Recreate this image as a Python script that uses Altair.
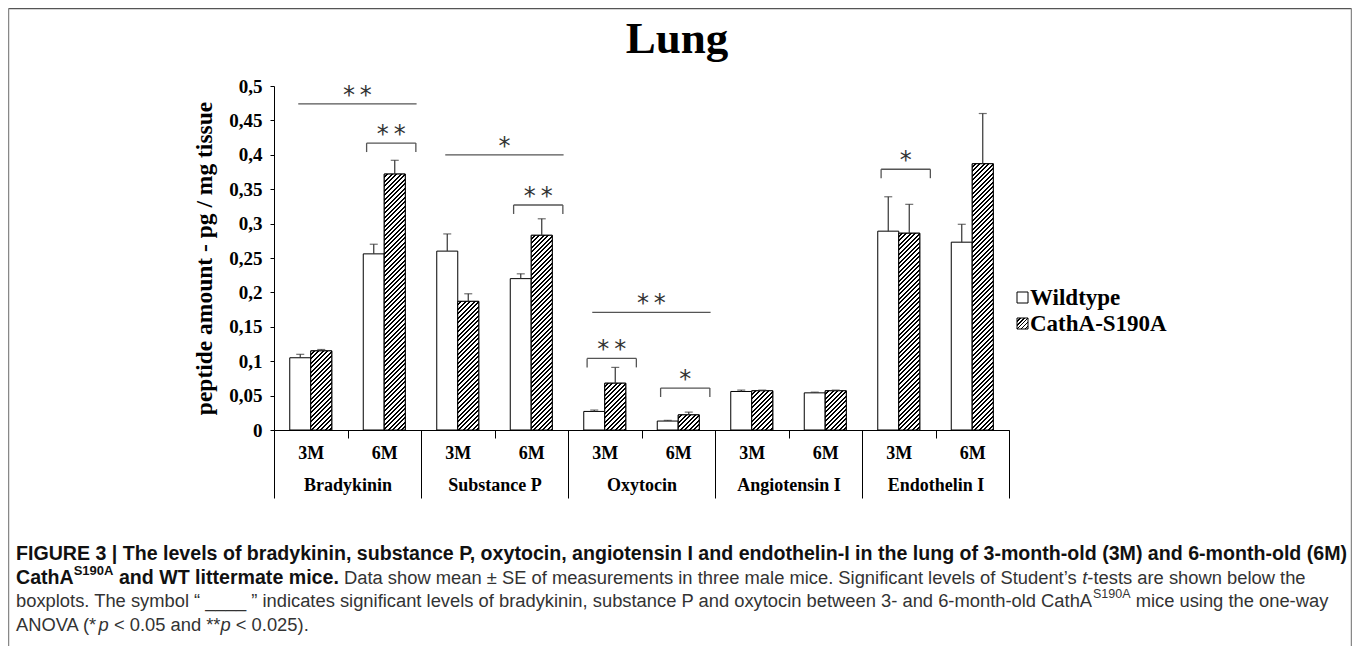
import altair as alt
import pandas as pd

# ---------------- data ----------------
peptides = ["Bradykinin", "Substance P", "Oxytocin", "Angiotensin I", "Endothelin I"]
ages = ["3M", "6M"]
genotypes = ["Wildtype", "CathA-S190A"]

# order: Brady 3M, Brady 6M, SubP 3M, SubP 6M, Oxy 3M, Oxy 6M, Ang 3M, Ang 6M, Endo 3M, Endo 6M
wt_mean = [0.105, 0.256, 0.260, 0.220, 0.027, 0.013, 0.056, 0.054, 0.289, 0.273]
wt_se = [0.005, 0.014, 0.025, 0.007, 0.002, 0.001, 0.002, 0.001, 0.050, 0.026]
ko_mean = [0.115, 0.372, 0.187, 0.283, 0.068, 0.022, 0.057, 0.057, 0.286, 0.387]
ko_se = [0.002, 0.020, 0.011, 0.024, 0.023, 0.004, 0.001, 0.001, 0.042, 0.073]

anova_peptides = ["Bradykinin", "Substance P", "Oxytocin"]
anova_levels = [0.474, 0.400, 0.171]
anova_marks = ["**", "*", "**"]

ttest_cats = ["Bradykinin 6M", "Substance P 6M", "Oxytocin 3M", "Oxytocin 6M", "Endothelin I 3M"]
ttest_levels = [0.417, 0.327, 0.104, 0.061, 0.379]
ttest_marks = ["**", "**", "**", "*", "*"]

# ---------------- layout ----------------
W, H = 735, 344
YMAX = 0.5
OX, OY = 274, 86          # page position of plot origin
PAD = {"left": OX - 8, "top": OY - 8, "right": 1352 - OX - W, "bottom": 646 - OY - H}
SERIF = "Liberation Serif"
SANS = "Liberation Sans"

cats = [f"{p} {a}" for p in peptides for a in ages]
rows = []
for k, c in enumerate(cats):
    p, a = peptides[k // 2], ages[k % 2]
    rows.append(dict(cat=c, peptide=p, age=a, geno=genotypes[0], mean=wt_mean[k], se=wt_se[k], idx=k))
    rows.append(dict(cat=c, peptide=p, age=a, geno=genotypes[1], mean=ko_mean[k], se=ko_se[k], idx=k))
df = pd.DataFrame(rows)

band = W / len(cats)
OFF_PAD = 0.75
bar_w = band / (2 + 2 * OFF_PAD)


def hatch(w, h, period=4.5, dark=0.45):
    L = w + h
    k = w * L / (w * w + h * h)
    p = period / L
    stops = []
    i = 0
    while i * p < 1:
        o0 = i * p
        o1 = min(1.0, o0 + p * (1 - dark))
        o2 = min(1.0, o0 + p)
        stops += [(o0, "white"), (o1, "white"), (o1, "black"), (o2, "black")]
        i += 1
    return alt.LinearGradient(
        gradient="linear", x1=0, y1=0, x2=k, y2=k * h / w,
        stops=[alt.GradientStop(offset=round(o, 5), color=c) for o, c in stops],
    )


y_scale = alt.Scale(domain=[0, YMAX], nice=False, zero=True)
y_axis = alt.Axis(
    title="peptide amount - pg / mg tissue",
    values=[round(0.05 * i, 2) for i in range(11)],
    labelExpr="replace(format(datum.value, '.2~f'), '.', ',')",
    grid=False, tickSize=4, labelPadding=8, labelFontSize=19,
    titleFont=SERIF, titleFontSize=23.5, titleFontWeight="bold", titleColor="black",
    titlePadding=12,
)
x_cat = alt.X(
    "cat:N",
    scale=alt.Scale(domain=cats, paddingInner=0, paddingOuter=0),
    axis=alt.Axis(
        orient="bottom", title=None, labelExpr="slice(datum.label, -2)", labelAngle=0,
        tickBand="extent", tickSize=8, labelPadding=15, labelBaseline="middle",
        labelFontSize=18, labelOverlap=False,
    ),
)
x_off = alt.XOffset("geno:N", scale=alt.Scale(domain=genotypes, paddingInner=0, paddingOuter=OFF_PAD))

base = alt.Chart(df)
layers = [
    base.mark_bar(fill="white", stroke="black", strokeWidth=1).encode(
        x=x_cat, xOffset=x_off, y=alt.Y("mean:Q", scale=y_scale, axis=y_axis)
    )
]
for k in range(len(cats)):
    h = ko_mean[k] * H / YMAX
    layers.append(
        base.transform_filter(f"datum.geno == '{genotypes[1]}' && datum.idx == {k}")
        .mark_bar(fill=hatch(bar_w, h), stroke="black", strokeWidth=1)
        .encode(x=x_cat, xOffset=x_off, y=alt.Y("mean:Q", scale=y_scale, axis=y_axis))
    )
err_base = base.transform_calculate(top="datum.mean + datum.se")
layers.append(
    err_base.mark_rule(color="#333", strokeWidth=1.2).encode(
        x=x_cat, xOffset=x_off, y=alt.Y("mean:Q", scale=y_scale, axis=y_axis), y2="top:Q"
    )
)
layers.append(
    err_base.mark_tick(color="#333", thickness=1.2, size=8, orient="horizontal").encode(
        x=x_cat, xOffset=x_off, y=alt.Y("top:Q", scale=y_scale, axis=y_axis)
    )
)
inner = alt.layer(*layers)

# group axis (peptide names and long separators)
grp = alt.Chart(pd.DataFrame({"peptide": peptides})).mark_point(opacity=0).encode(
    x=alt.X(
        "peptide:N",
        scale=alt.Scale(domain=peptides, paddingInner=0, paddingOuter=0),
        axis=alt.Axis(
            orient="bottom", title=None, domain=False, tickBand="extent", tickSize=68,
            labelPadding=-13, labelBaseline="middle", labelAngle=0, labelFontSize=18,
            labelOverlap=False,
        ),
    ),
    y=alt.value(0),
)

# significance annotations on a hidden quantitative x scale (category units)
xq_scale = alt.Scale(domain=[0, len(cats)], nice=False, zero=False)


def star_text(m):
    return m.replace("**", "*\u2009*")


anova_df = pd.DataFrame({
    "level": anova_levels,
    "mark": [star_text(m) for m in anova_marks],
    "i": [peptides.index(p) for p in anova_peptides],
})
ttest_df = pd.DataFrame({
    "level": ttest_levels,
    "mark": [star_text(m) for m in ttest_marks],
    "k": [cats.index(c) for c in ttest_cats],
})
LINE_C = "#555"
an = alt.Chart(anova_df).transform_calculate(
    x0="2 * datum.i + 0.33", x1="2 * datum.i + 1.94", xm="2 * datum.i + 1.135"
)
tt = alt.Chart(ttest_df).transform_calculate(
    x0="datum.k + 0.26", x1="datum.k + 0.93", xm="datum.k + 0.595", leg="datum.level - 0.013"
)
yl = alt.Y("level:Q", scale=y_scale, axis=y_axis)
star_kw = dict(font="DejaVu Sans", fontSize=24, color="#333", baseline="alphabetic", dy=-1)
annot = alt.layer(
    an.mark_rule(color=LINE_C, strokeWidth=1.3).encode(
        x=alt.X("x0:Q", scale=xq_scale, axis=None), x2="x1:Q", y=yl),
    an.mark_text(**star_kw).encode(
        x=alt.X("xm:Q", scale=xq_scale, axis=None), y=yl, text="mark:N"),
    tt.mark_rule(color=LINE_C, strokeWidth=1.3).encode(
        x=alt.X("x0:Q", scale=xq_scale, axis=None), x2="x1:Q", y=yl),
    tt.mark_rule(color=LINE_C, strokeWidth=1.3).encode(
        x=alt.X("x0:Q", scale=xq_scale, axis=None), y=yl, y2="leg:Q"),
    tt.mark_rule(color=LINE_C, strokeWidth=1.3).encode(
        x=alt.X("x1:Q", scale=xq_scale, axis=None), y=yl, y2="leg:Q"),
    tt.mark_text(**star_kw).encode(
        x=alt.X("xm:Q", scale=xq_scale, axis=None), y=yl, text="mark:N"),
)

# ---------------- decorations (title, legend, frame, caption) ----------------
one = alt.Data(values=[{"a": 1}])


def txt(text, px, py, size, font=SANS, weight="normal", style="normal", color="black",
        align="left", baseline="middle"):
    return alt.Chart(one).mark_text(
        font=font, fontSize=size, fontWeight=weight, fontStyle=style, color=color,
        align=align, baseline=baseline,
    ).encode(x=alt.value(px - OX), y=alt.value(py - OY), text=alt.value(text))


def rule(xa, ya, xb, yb, color="#777", width=1.5):
    return alt.Chart(one).mark_rule(color=color, strokeWidth=width).encode(
        x=alt.value(xa - OX), y=alt.value(ya - OY), x2=alt.value(xb - OX), y2=alt.value(yb - OY))


def box(xa, ya, xb, yb, fill):
    return alt.Chart(one).mark_rect(fill=fill, stroke="black", strokeWidth=1).encode(
        x=alt.value(xa - OX), y=alt.value(ya - OY), x2=alt.value(xb - OX), y2=alt.value(yb - OY))


LEG_Y = [297, 323]
decor = [
    rule(8.5, 8.5, 1351.5, 8.5, color="#555"),
    rule(8.5, 8.5, 8.5, 646, color="#888"),
    rule(1351.5, 8.5, 1351.5, 646, color="#888"),
    txt("Lung", 677, 53, 45, font=SERIF, weight="bold", align="center", baseline="alphabetic"),
    box(1017, LEG_Y[0] - 5, 1028, LEG_Y[0] + 6, "white"),
    box(1017, LEG_Y[1] - 5, 1028, LEG_Y[1] + 6, hatch(11, 11, period=4.0, dark=0.45)),
    txt(genotypes[0], 1030, LEG_Y[0] + 1, 23, font=SERIF, weight="bold"),
    txt(genotypes[1], 1030, LEG_Y[1] + 1, 23, font=SERIF, weight="bold"),
]

# caption with superscripts / italics: widths from Arial-compatible metrics
REG = dict(zip("abcdefghijklmnopqrstuvwxyz",
               [556, 556, 500, 556, 556, 278, 556, 556, 222, 222, 500, 222, 833, 556, 556, 556, 556,
                333, 500, 278, 556, 500, 722, 500, 500, 500]))
REG.update(zip("ABCDEFGHIJKLMNOPQRSTUVWXYZ",
               [667, 667, 722, 722, 667, 611, 778, 722, 278, 500, 667, 556, 833, 722, 778, 667, 778,
                722, 667, 611, 722, 667, 944, 667, 667, 611]))
REG.update({" ": 278, ",": 278, ".": 278, "-": 333, "(": 333, ")": 333, "|": 260, "\u2019": 222,
            "\u201c": 333, "\u201d": 333, "_": 556, "<": 584, "*": 389, "\u00b1": 549})
BOLD = dict(zip("abcdefghijklmnopqrstuvwxyz",
                [556, 611, 556, 611, 556, 333, 611, 611, 278, 278, 556, 278, 889, 611, 611, 611, 611,
                 389, 556, 333, 611, 556, 778, 556, 556, 500]))
BOLD.update(zip("ABCDEFGHIJKLMNOPQRSTUVWXYZ",
                [722, 722, 722, 722, 667, 611, 778, 722, 278, 556, 722, 611, 833, 722, 778, 667, 778,
                 722, 667, 611, 722, 667, 944, 667, 667, 611]))
BOLD.update({" ": 278, ",": 278, ".": 278, "-": 333, "(": 333, ")": 333, "|": 280})


def tw(text, bold):
    tab = BOLD if bold else REG
    return sum(tab.get(ch, 556) for ch in text) / 1000.0


CAP_B = 19.6
CAP_R = 18.35
SUP_B = 13.0
SUP_R = 12.5
CAP_X = 16
CAP_Y = [554, 577.5, 601, 624.5]
C_BOLD, C_REG = "#111", "#333"


def cap_line(segs, y):
    out = []
    x = CAP_X
    for text, kind in segs:
        bold = kind.startswith("b")
        sup = kind.endswith("sup")
        size = (SUP_B if bold else SUP_R) if sup else (CAP_B if bold else CAP_R)
        lead = len(text) - len(text.lstrip(" "))
        xx = x + lead * tw(" ", bold) * size
        yy = y - 0.36 * CAP_R if sup else y
        out.append(txt(text.strip(), xx, yy, size, weight="bold" if bold else "normal",
                       style="italic" if kind == "italic" else "normal",
                       color=C_BOLD if bold else C_REG))
        x += tw(text, bold) * size
    return out


caption = []
caption += cap_line([("FIGURE 3 | The levels of bradykinin, substance P, oxytocin, angiotensin I and "
                      "endothelin-I in the lung of 3-month-old (3M) and 6-month-old (6M)", "bold")], CAP_Y[0])
caption += cap_line([("CathA", "bold"), ("S190A", "bold-sup"), (" and WT littermate mice.", "bold"),
                     (" Data show mean \u00b1 SE of measurements in three male mice. Significant levels of "
                      "Student\u2019s ", "reg"), ("t", "italic"), ("-tests are shown below the", "reg")],
                    CAP_Y[1])
caption += cap_line([("boxplots. The symbol \u201c ____ \u201d indicates significant levels of bradykinin, "
                      "substance P and oxytocin between 3- and 6-month-old CathA", "reg"),
                     ("S190A", "reg-sup"), (" mice using the one-way", "reg")], CAP_Y[2])
caption += cap_line([("ANOVA (*", "reg"), ("p", "italic"), (" < 0.05 and **", "reg"), ("p", "italic"),
                     (" < 0.025).", "reg")], CAP_Y[3])

chart = (
    alt.layer(inner, grp, annot, *decor, *caption)
    .resolve_scale(x="independent")
    .properties(width=W, height=H, padding=PAD, autosize=alt.AutoSizeParams(type="none"))
    .configure_view(stroke=None)
    .configure_axis(
        labelFont=SERIF, labelFontWeight="bold", labelColor="black",
        domainColor="black", tickColor="black", domainWidth=1, tickWidth=1,
    )
)

chart.save("out.html", embed_options={"renderer": "svg", "actions": False})
